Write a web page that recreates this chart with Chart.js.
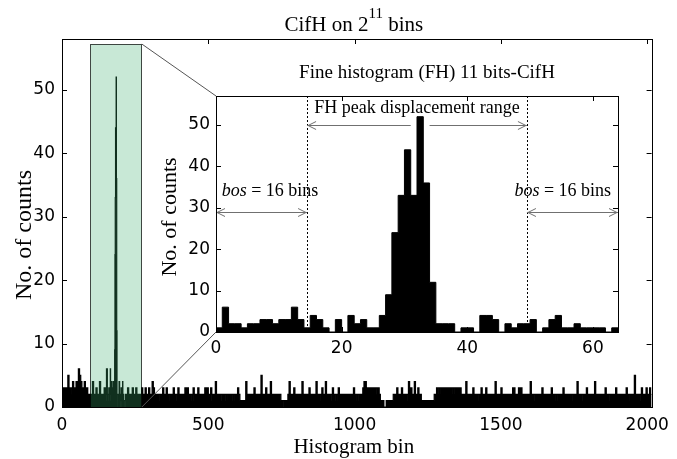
<!DOCTYPE html>
<html>
<head>
<meta charset="utf-8">
<title>CifH on 2^11 bins</title>
<script src="https://cdn.jsdelivr.net/npm/chart.js@4.4.1/dist/chart.umd.min.js"></script>
<style>
  body { margin: 0; background: #fff; }
  #wrap { position: relative; width: 677px; height: 459px; }
  #mainChart { position: absolute; left: 0; top: 0; }
  #insetChart { position: absolute; left: 140px; top: 55px; }
</style>
</head>
<body>
<div id="wrap">
  <canvas id="mainChart" width="677" height="459"></canvas>
  <canvas id="insetChart" width="490" height="310"></canvas>
</div>
<script>
// ---- data ----
// coarse histogram: one value per group of 4 bins (bins 0..2015)
var groupSize = 4;
var coarseCounts = [
  3,3,2,3,3,5,3,2,3,4,3,3,4,3,6,5,4,3,3,4,2,3,2,2,
  2,2,4,2,2,3,2,2,4,2,2,2,3,2,6,2,3,6,4,4,4,44,52,2,
  4,4,3,4,2,1,2,2,3,2,2,2,3,2,2,3,2,2,2,2,3,2,2,3,
  2,2,3,2,2,4,3,2,2,2,1,2,2,2,3,2,2,3,2,2,1,2,2,3,
  2,2,1,3,2,2,2,1,2,3,2,3,2,2,2,1,3,2,2,2,3,2,2,1,
  2,2,3,2,3,2,2,3,1,2,2,4,2,2,2,1,2,2,2,2,1,2,2,2,
  2,2,1,2,2,2,3,2,1,0,1,0,1,4,2,2,2,1,2,2,3,2,2,1,
  2,2,5,2,2,2,3,2,2,2,4,1,2,2,2,2,1,2,2,1,0,1,1,1,
  1,2,4,2,2,2,3,2,2,1,2,2,2,4,2,2,1,2,2,3,2,2,1,2,
  2,4,2,2,2,1,3,2,2,4,2,2,2,1,2,3,2,2,1,2,3,2,2,2,
  2,2,2,2,1,2,2,2,2,3,2,2,1,2,2,2,2,3,4,4,2,3,3,3,
  3,3,2,3,3,2,3,2,1,0,1,0,0,1,0,1,0,1,1,2,2,2,3,2,
  2,2,3,2,2,2,1,2,4,2,3,2,2,4,2,2,3,2,2,1,0,1,1,1,
  1,0,1,1,1,1,2,2,3,3,2,3,3,3,3,3,3,3,3,3,3,3,2,3,
  3,3,2,3,3,2,2,2,2,4,2,2,2,1,2,3,2,2,2,2,1,2,3,2,
  2,2,3,2,2,2,2,1,2,2,4,2,2,2,2,3,2,2,2,1,2,2,2,2,
  2,3,3,2,2,2,3,2,3,2,2,1,2,2,2,2,4,2,2,2,1,2,2,2,
  2,2,3,2,2,1,2,2,2,2,3,2,2,2,1,2,2,2,2,2,3,2,2,1,
  2,2,2,1,2,2,2,2,4,2,2,2,2,1,2,2,3,2,2,2,2,2,1,4,
  2,2,2,1,2,2,2,2,3,2,2,2,1,2,2,2,2,3,2,2,2,2,1,2,
  2,2,3,2,2,1,2,2,2,5,2,2,2,1,2,3,2,2,2,3,2,2,3,2
];
// fine histogram (64 bins), starts at bin 153 of the main histogram
var fineStart = 153;
var fineCounts = [
  1,6,2,2,1,2,2,3,3,2,3,3,6,3,1,4,
  3,1,0,3,0,4,2,3,1,1,4,9,24,33,44,33,
  52,36,12,2,2,2,0,1,1,0,4,4,3,0,2,1,
  2,2,3,0,1,3,4,1,1,2,1,1,1,1,0,1
];
var highlightBins = [97, 273];
var highlightTop = 57.2;
var mainXTicks = [0, 500, 1000, 1500, 2000];
var mainYTicks = [0, 10, 20, 30, 40, 50];
var insetXTicks = [0, 20, 40, 60];
var insetYTicks = [0, 10, 20, 30, 40, 50];
var mainXMax = 2015, mainYMax = 58;
var insetXMax = 64, insetYMax = 57;
// annotation values inside the inset (bin / count units)
var bosLines = [14.5, 49.5];
var bosArrowY = 29;
var peakArrowY = 50;
var peakGap = [31, 34];

// ---- build the per-bin main histogram ----
var mainCounts = [];
for (var g = 0; g < coarseCounts.length; g++) {
  for (var k = 0; k < groupSize; k++) mainCounts.push(coarseCounts[g]);
}
for (var i = 0; i < fineCounts.length; i++) mainCounts[fineStart + i] = fineCounts[i];

function stepPoints(counts) {
  var pts = counts.map(function(v, i) { return {x: i, y: v}; });
  pts.push({x: counts.length, y: counts[counts.length - 1]});
  return pts;
}

Chart.defaults.font.family = '"DejaVu Sans", sans-serif';
Chart.defaults.font.size = 17;
Chart.defaults.color = '#000';
var serif = '"Liberation Serif", "Times New Roman", serif';

function fixTicks(list) {
  return function(scale) {
    scale.ticks = list.map(function(v) { return {value: v}; });
  };
}
function plainLabel(v) { return String(v); }

// box + inward ticks, matlab style
function drawBox(chart, tickLen) {
  var ctx = chart.ctx, a = chart.chartArea, xs = chart.scales.x, ys = chart.scales.y;
  ctx.save();
  ctx.strokeStyle = '#000';
  ctx.lineWidth = 1;
  ctx.beginPath();
  xs.ticks.forEach(function(t) {
    var p = Math.round(xs.getPixelForValue(t.value)) + 0.5;
    ctx.moveTo(p, a.bottom); ctx.lineTo(p, a.bottom - tickLen);
    ctx.moveTo(p, a.top); ctx.lineTo(p, a.top + tickLen);
  });
  ys.ticks.forEach(function(t) {
    var p = Math.round(ys.getPixelForValue(t.value)) + 0.5;
    ctx.moveTo(a.left, p); ctx.lineTo(a.left + tickLen, p);
    ctx.moveTo(a.right, p); ctx.lineTo(a.right - tickLen, p);
  });
  ctx.stroke();
  ctx.strokeRect(Math.round(a.left) + 0.5, Math.round(a.top) + 0.5,
                 Math.round(a.right - a.left), Math.round(a.bottom - a.top));
  ctx.restore();
}

function drawParts(ctx, parts, cx, y) {
  var total = 0;
  parts.forEach(function(p) { ctx.font = p.font; p.w = ctx.measureText(p.text).width; total += p.w; });
  var x = cx - total / 2;
  ctx.textAlign = 'left';
  ctx.textBaseline = 'alphabetic';
  ctx.fillStyle = '#000';
  parts.forEach(function(p) { ctx.font = p.font; ctx.fillText(p.text, x, y + (p.dy || 0)); x += p.w; });
}

function drawVertical(ctx, text, font, cx, cy) {
  ctx.save();
  ctx.translate(cx, cy);
  ctx.rotate(-Math.PI / 2);
  ctx.font = font;
  ctx.fillStyle = '#000';
  ctx.textAlign = 'center';
  ctx.textBaseline = 'middle';
  ctx.fillText(text, 0, 0);
  ctx.restore();
}

function arrowHead(ctx, x, y, dir) {
  ctx.moveTo(x - dir * 8, y - 4);
  ctx.lineTo(x, y);
  ctx.lineTo(x - dir * 8, y + 4);
}

function bosText(ctx, cx, y) {
  drawParts(ctx, [
    {text: 'bos', font: 'italic 18px ' + serif},
    {text: ' = 16 bins', font: '18px ' + serif}
  ], cx, y);
}

/////////////////////////
// INSET: FINE HISTOGRAM
/////////////////////////
var insetDecor = {
  id: 'insetDecor',
  beforeDraw: function(chart) {
    var a = chart.chartArea, ctx = chart.ctx;
    ctx.save();
    ctx.fillStyle = '#fff';
    ctx.fillRect(a.left, a.top, a.right - a.left, a.bottom - a.top);
    ctx.restore();
  },
  beforeDatasetsDraw: function(chart) {
    var ctx = chart.ctx, xs = chart.scales.x, ys = chart.scales.y;
    var px = function(v) { return xs.getPixelForValue(v); };
    ctx.save();
    // dotted limits of the peak displacement range
    ctx.strokeStyle = '#000';
    ctx.lineWidth = 1;
    ctx.setLineDash([2, 2]);
    ctx.beginPath();
    bosLines.forEach(function(v) {
      var p = Math.round(px(v)) + 0.5;
      ctx.moveTo(p, ys.getPixelForValue(insetYMax));
      ctx.lineTo(p, ys.getPixelForValue(0));
    });
    ctx.stroke();
    ctx.setLineDash([]);
    // arrows
    ctx.strokeStyle = '#707070';
    var yb = Math.round(ys.getPixelForValue(bosArrowY)) + 0.5;
    var yp = Math.round(ys.getPixelForValue(peakArrowY)) + 0.5;
    ctx.beginPath();
    ctx.moveTo(px(0), yb); ctx.lineTo(px(bosLines[0]), yb);
    arrowHead(ctx, px(0) + 1, yb, -1); arrowHead(ctx, px(bosLines[0]) - 1, yb, 1);
    ctx.moveTo(px(bosLines[1]), yb); ctx.lineTo(px(insetXMax), yb);
    arrowHead(ctx, px(bosLines[1]) + 1, yb, -1); arrowHead(ctx, px(insetXMax) - 1, yb, 1);
    ctx.moveTo(px(bosLines[0]), yp); ctx.lineTo(px(peakGap[0]), yp);
    arrowHead(ctx, px(bosLines[0]) + 1, yp, -1);
    ctx.moveTo(px(peakGap[1]), yp); ctx.lineTo(px(bosLines[1]), yp);
    arrowHead(ctx, px(bosLines[1]) - 1, yp, 1);
    ctx.stroke();
    ctx.restore();
  },
  afterDatasetsDraw: function(chart) {
    var ctx = chart.ctx, xs = chart.scales.x, ys = chart.scales.y;
    ctx.save();
    drawParts(ctx, [{text: 'FH peak displacement range', font: '18px ' + serif}],
              xs.getPixelForValue(32), ys.getPixelForValue(53));
    bosText(ctx, xs.getPixelForValue(8.6), ys.getPixelForValue(32.8));
    bosText(ctx, xs.getPixelForValue(55.2), ys.getPixelForValue(32.8));
    ctx.restore();
  },
  afterDraw: function(chart) {
    var ctx = chart.ctx, a = chart.chartArea;
    drawBox(chart, 5);
    ctx.save();
    drawParts(ctx, [{text: 'Fine histogram (FH) 11 bits-CifH', font: '19px ' + serif}],
              (a.left + a.right) / 2 + 10, a.top - 18);
    drawVertical(ctx, 'No. of counts', '22px ' + serif, a.left - 46, (a.top + a.bottom) / 2 + 3);
    ctx.restore();
  }
};

var insetCanvas = document.getElementById('insetChart');
var insetChart = new Chart(insetCanvas, {
  type: 'line',
  data: {
    datasets: [{
      data: stepPoints(fineCounts),
      stepped: true,
      fill: 'origin',
      backgroundColor: '#000',
      borderColor: '#000',
      borderWidth: 1,
      pointRadius: 0
    }]
  },
  options: {
    responsive: false,
    animation: false,
    devicePixelRatio: 1,
    events: [],
    layout: { padding: { top: 41, right: 12, left: 0, bottom: 0 } },
    plugins: { legend: { display: false }, tooltip: { enabled: false } },
    scales: {
      x: {
        type: 'linear', min: 0, max: insetXMax,
        afterBuildTicks: fixTicks(insetXTicks),
        afterFit: function(s) { s.height = 33; },
        grid: { display: false, drawTicks: false },
        border: { display: false },
        ticks: { padding: 6, maxRotation: 0, autoSkip: false, callback: plainLabel }
      },
      y: {
        min: 0, max: insetYMax,
        afterBuildTicks: fixTicks(insetYTicks),
        afterFit: function(s) { s.width = 76; },
        grid: { display: false, drawTicks: false },
        border: { display: false },
        ticks: { padding: 6, callback: plainLabel }
      }
    }
  },
  plugins: [insetDecor]
});

///////////////////////////
// MAIN: CifH ON 2^11 BINS
///////////////////////////
var mainDecor = {
  id: 'mainDecor',
  afterDatasetsDraw: function(chart) {
    var ctx = chart.ctx, xs = chart.scales.x, ys = chart.scales.y;
    var x0 = xs.getPixelForValue(highlightBins[0]), x1 = xs.getPixelForValue(highlightBins[1]);
    var yT = ys.getPixelForValue(highlightTop), yB = ys.getPixelForValue(0);
    ctx.save();
    ctx.fillStyle = 'rgba(59,173,109,0.28)';
    ctx.fillRect(x0, yT, x1 - x0, yB - yT);
    ctx.strokeStyle = 'rgba(0,0,0,0.7)';
    ctx.lineWidth = 1;
    ctx.strokeRect(Math.round(x0) + 0.5, Math.round(yT) + 0.5, Math.round(x1 - x0), Math.round(yB - yT));
    ctx.restore();
  },
  afterDraw: function(chart) {
    var ctx = chart.ctx, a = chart.chartArea, xs = chart.scales.x, ys = chart.scales.y;
    drawBox(chart, 5);
    // lines from the zoom window to the inset
    var ia = insetChart.chartArea;
    var ox = insetCanvas.offsetLeft, oy = insetCanvas.offsetTop;
    var x1 = xs.getPixelForValue(highlightBins[1]);
    ctx.save();
    ctx.strokeStyle = '#555';
    ctx.lineWidth = 1;
    ctx.beginPath();
    ctx.moveTo(x1, ys.getPixelForValue(highlightTop)); ctx.lineTo(ox + ia.left, oy + ia.top);
    ctx.moveTo(x1, ys.getPixelForValue(0)); ctx.lineTo(ox + ia.left, oy + ia.bottom);
    ctx.stroke();
    var cx = (a.left + a.right) / 2;
    drawParts(ctx, [
      {text: 'CifH on 2', font: '21px ' + serif},
      {text: '11', font: '15px ' + serif, dy: -13},
      {text: ' bins', font: '21px ' + serif}
    ], cx - 3, a.top - 8);
    drawParts(ctx, [{text: 'Histogram bin', font: '21px ' + serif}], cx - 3, a.bottom + 46);
    drawVertical(ctx, 'No. of counts', '24px ' + serif, a.left - 37, (a.top + a.bottom) / 2 + 12);
    ctx.restore();
  }
};

new Chart(document.getElementById('mainChart'), {
  type: 'line',
  data: {
    datasets: [{
      data: stepPoints(mainCounts),
      stepped: true,
      fill: 'origin',
      backgroundColor: '#000',
      borderColor: '#000',
      borderWidth: 1.2,
      pointRadius: 0
    }]
  },
  options: {
    responsive: false,
    animation: false,
    devicePixelRatio: 1,
    events: [],
    layout: { padding: { top: 39, right: 20, left: 0, bottom: 0 } },
    plugins: { legend: { display: false }, tooltip: { enabled: false } },
    scales: {
      x: {
        type: 'linear', min: 0, max: mainXMax,
        afterBuildTicks: fixTicks(mainXTicks),
        afterFit: function(s) { s.height = 52; },
        grid: { display: false, drawTicks: false },
        border: { display: false },
        ticks: { padding: 8, maxRotation: 0, autoSkip: false, callback: plainLabel }
      },
      y: {
        min: 0, max: mainYMax,
        afterBuildTicks: fixTicks(mainYTicks),
        afterFit: function(s) { s.width = 62; },
        grid: { display: false, drawTicks: false },
        border: { display: false },
        ticks: { padding: 7, callback: plainLabel }
      }
    }
  },
  plugins: [mainDecor]
});
</script>
</body>
</html>
